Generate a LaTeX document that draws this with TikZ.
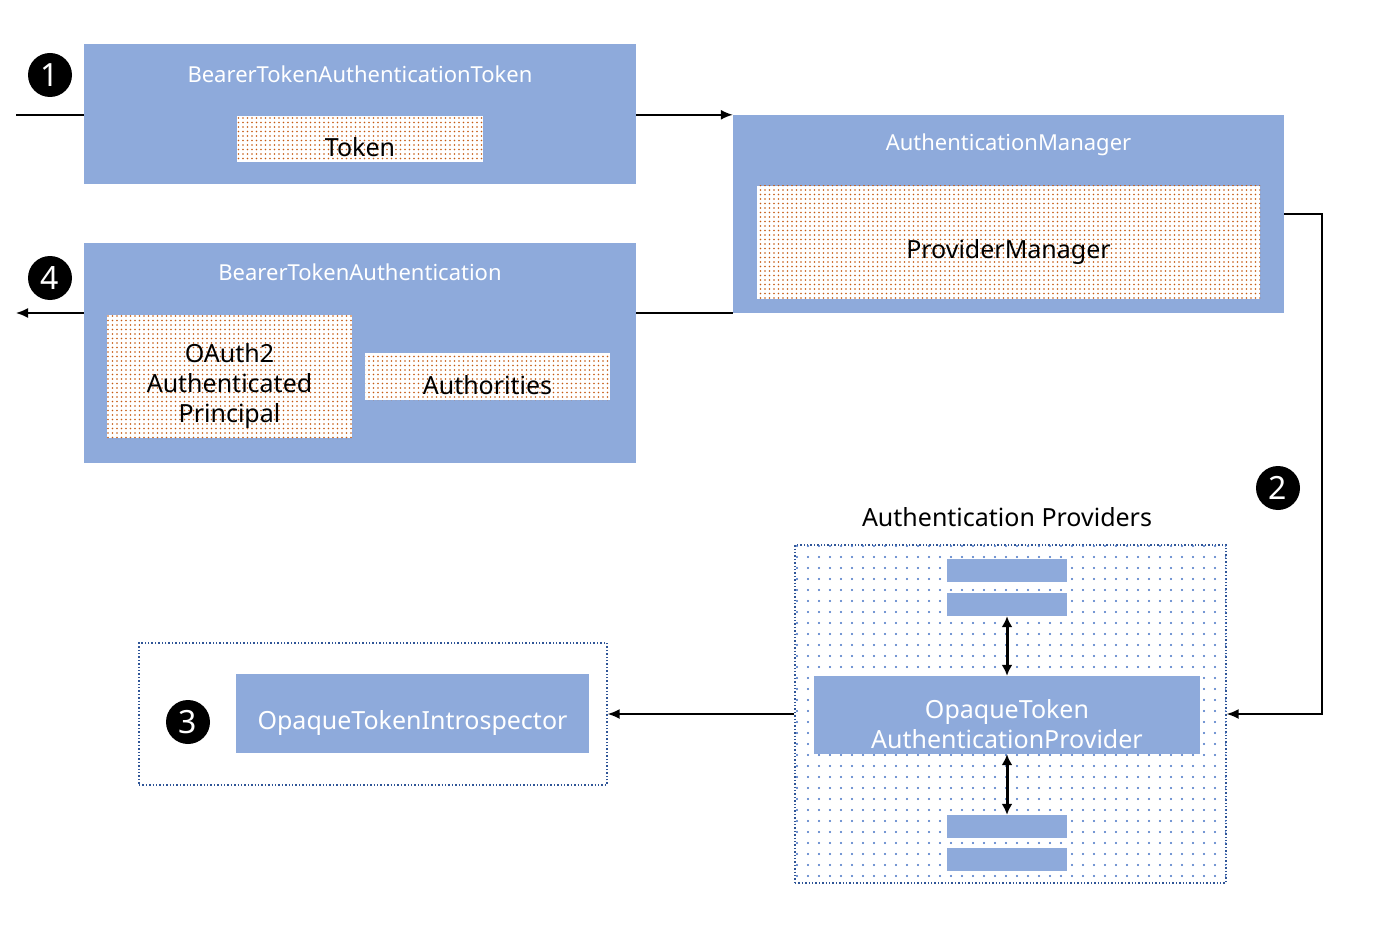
\documentclass[tikz,border=0pt]{standalone}
\usepackage{fontspec}
\setmainfont{Noto Sans}
\usetikzlibrary{patterns.meta,arrows.meta,backgrounds}
\definecolor{boxblue}{HTML}{8EAADB}
\definecolor{dotorange}{HTML}{C55A11}
\definecolor{dotblue}{HTML}{4472C4}
\definecolor{borderblue}{HTML}{2F5597}
\tikzset{
  bluebox/.style={rectangle, fill=boxblue, inner sep=0pt},
  orangebox/.style={rectangle, inner sep=0pt, fill=white,
    postaction={pattern={Dots[distance=4.5pt,radius=0.85pt]}, pattern color=dotorange}},
  groupbox/.style={rectangle, inner sep=0pt, draw=borderblue, dotted, line width=1.4pt},
  wtitle/.style={text=white, font=\fontsize{22}{26}\selectfont, inner sep=0pt},
  wbig/.style={text=white, font=\fontsize{25}{30}\selectfont, inner sep=0pt, align=center},
  btext/.style={text=black, font=\fontsize{25}{30}\selectfont, inner sep=0pt, align=center},
  num/.style={circle, fill=black, text=white, minimum size=44pt, inner sep=0pt,
    font=\fontsize{32}{32}\selectfont},
  conn/.style={line width=1.6pt, black},
  arr/.style={conn, -{Latex[length=12pt,width=10pt]}},
  dblarr/.style={line width=3pt, black, {Latex[length=11pt,width=11pt]}-{Latex[length=11pt,width=11pt]}}
}
\begin{document}
\begin{tikzpicture}[x=1pt,y=-1pt]
\useasboundingbox (0,0) rectangle (1376,928);

% Box 1
\node[bluebox, minimum width=552pt, minimum height=140pt] (bat) at (360,114) {};
\node[wtitle] (battitle) at (360,74) {BearerTokenAuthenticationToken};
\node[orangebox, minimum width=246pt, minimum height=46pt] (tok) at (360,139) {};
\node[btext] (toktext) at (360,147) {Token};
\node[num] (n1) at (50,75) {1};

% Authentication manager
\node[bluebox, minimum width=551pt, minimum height=198pt] (am) at (1008.5,214) {};
\node[wtitle] (amtitle) at (1008.5,145) {AuthenticationManager};
\node[orangebox, minimum width=503pt, minimum height=113pt] (pm) at (1008.5,242.5) {};
\node[btext] (pmtext) at (1008.5,252) {ProviderManager};

% Box 4
\node[bluebox, minimum width=552pt, minimum height=220pt] (bta) at (360,353) {};
\node[wtitle] (btatitle) at (360,272) {BearerTokenAuthentication};
\node[orangebox, minimum width=245pt, minimum height=123pt] (princ) at (229.5,376.5) {};
\node[btext] (princtext) at (229.5,386) {OAuth2\\Authenticated\\Principal};
\node[orangebox, minimum width=245pt, minimum height=47pt] (auth) at (487.5,376.5) {};
\node[btext] (authtext) at (487.5,385) {Authorities};
\node[num] (n4) at (50,278) {4};

% Providers
\node[btext] (provlabel) at (1007,517) {Authentication Providers};
\node[groupbox, minimum width=431pt, minimum height=338pt, fill=white,
  postaction={pattern={Dots[distance=10.5pt,radius=1.1pt]}, pattern color=dotblue}] (prov) at (1010.5,714) {};
\node[bluebox, minimum width=120pt, minimum height=23pt] (bar1) at (1007,570.5) {};
\node[bluebox, minimum width=120pt, minimum height=23pt] (bar2) at (1007,604.5) {};
\node[bluebox, minimum width=386pt, minimum height=78pt] (otap) at (1007,715) {};
\node[wbig] (otaptext) at (1007,724) {OpaqueToken\\AuthenticationProvider};
\node[bluebox, minimum width=120pt, minimum height=23pt] (bar3) at (1007,826.5) {};
\node[bluebox, minimum width=120pt, minimum height=23pt] (bar4) at (1007,859.5) {};
\node[num] (n2) at (1278,488) {2};

% Introspector
\node[groupbox, minimum width=468pt, minimum height=142pt] (intro) at (373,714) {};
\node[bluebox, minimum width=353pt, minimum height=79pt] (oti) at (412.5,713.5) {};
\node[wbig] (otitext) at (412.5,723) {OpaqueTokenIntrospector};
\node[num] (n3) at (188,722) {3};

% connectors
\coordinate (in1) at (16,115);
\coordinate (out4) at (16,313);
\begin{scope}[on background layer]
\fill[white] (0,0) rectangle (1376,928);
\draw[conn] (in1) -- (bat.west |- in1);
\draw[arr] (out4 -| am.west) -- (out4);
\end{scope}
\draw[arr] (bat.east |- am.north west) -- (am.north west);
\draw[arr] (am.east) -- ++(38,0) |- (prov.east);
\draw[arr] (prov.west) -- (intro.east);
\draw[dblarr] (bar2.south) -- (otap.north);
\draw[dblarr] (otap.south) -- (bar3.north);
\end{tikzpicture}
\end{document}
